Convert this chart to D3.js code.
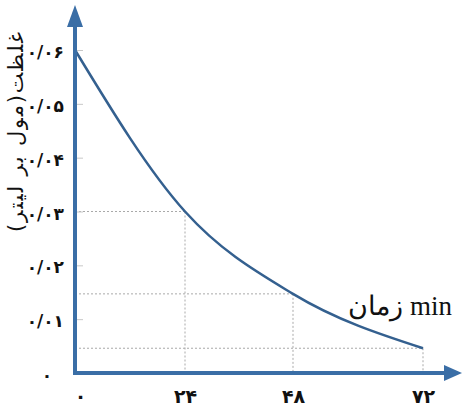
<!DOCTYPE html>
<html>
<head>
<meta charset="utf-8">
<script src="https://cdn.jsdelivr.net/npm/d3@7"></script>
<style>
  body { margin: 0; background: #fff; }
  svg { display: block; }
</style>
</head>
<body>
<script>
// data
const times = [0, 24, 48, 72];
const conc = [0.06, 0.03, 0.0147, 0.0046];
const yTicks = [0, 0.01, 0.02, 0.03, 0.04, 0.05, 0.06];
const xTicks = [0, 24, 48, 72];
const yTitle = 'غلظت(مول بر لیتر)';
const xTitle = 'زمان min';

const W = 463, H = 409;
const axisColor = '#3a6ea6';
const lineColor = '#34608f';

const fa = d => String(d).replace(/[0-9]/g, c => '۰۱۲۳۴۵۶۷۸۹'[+c]);
const yFmt = d => d === 0 ? '۰' : fa('0/0' + Math.round(d * 100));

const x = d3.scaleLinear().domain([0, 24, 48, 72]).range([75, 185, 293, 423]);
const y = d3.scaleLinear().domain([0, 0.06]).range([373, 50]);

const svg = d3.select('body').append('svg')
    .attr('width', W)
    .attr('height', H);

const pts = times.map((t, i) => ({t: t, c: conc[i]}));

// dotted guide lines
const guides = svg.append('g')
    .attr('stroke', '#a9a9a9')
    .attr('stroke-width', 1)
    .attr('stroke-dasharray', '2,2');
pts.slice(1).forEach(p => {
  guides.append('line')
      .attr('x1', x(0)).attr('x2', x(p.t))
      .attr('y1', y(p.c)).attr('y2', y(p.c));
  guides.append('line')
      .attr('x1', x(p.t)).attr('x2', x(p.t))
      .attr('y1', y(p.c)).attr('y2', y(0));
});

// y axis ticks + labels
const yAxis = d3.axisLeft(y)
    .tickValues(yTicks)
    .tickSizeInner(-8)
    .tickSizeOuter(0)
    .tickPadding(0)
    .tickFormat(yFmt);
const gy = svg.append('g').attr('transform', `translate(${x(0)},0)`).call(yAxis);
gy.select('.domain').remove();
gy.selectAll('.tick line').attr('stroke', '#c8c8c8').attr('x1', 2);
gy.selectAll('.tick text')
    .attr('x', -11)
    .attr('text-anchor', 'end')
    .attr('direction', 'ltr')
    .attr('dy', '0.45em')
    .attr('font-family', 'DejaVu Sans, sans-serif')
    .attr('font-size', 17)
    .attr('font-weight', 'bold')
    .attr('fill', '#111');
gy.selectAll('.tick').filter(d => d === 0).select('line').remove();
gy.selectAll('.tick').filter(d => d === 0).select('text')
    .attr('x', -28).attr('text-anchor', 'middle');

// x axis labels
const xAxis = d3.axisBottom(x)
    .tickValues(xTicks)
    .tickSize(0)
    .tickPadding(0)
    .tickFormat(fa);
const gx = svg.append('g').attr('transform', `translate(0,${y(0)})`).call(xAxis);
gx.select('.domain').remove();
gx.selectAll('.tick text')
    .attr('y', 23)
    .attr('dy', '0.35em')
    .attr('font-family', 'DejaVu Sans, sans-serif')
    .attr('font-size', 19)
    .attr('font-weight', 'bold')
    .attr('fill', '#111');
gx.selectAll('.tick').filter(d => d === 0).select('text').attr('x', 5);

// curve
const line = d3.line()
    .x(d => x(d.t))
    .y(d => y(d.c))
    .curve(d3.curveMonotoneX);
svg.append('path')
    .datum(pts)
    .attr('d', line)
    .attr('fill', 'none')
    .attr('stroke', lineColor)
    .attr('stroke-width', 2.5);

// axis lines with arrows
svg.append('line')
    .attr('x1', x(0)).attr('x2', x(0))
    .attr('y1', y(0) + 2).attr('y2', 22)
    .attr('stroke', axisColor).attr('stroke-width', 4);
svg.append('path')
    .attr('d', `M${x(0)},5 L${x(0) - 8},27 L${x(0) + 8},27 Z`)
    .attr('fill', axisColor);
svg.append('line')
    .attr('x1', x(0) - 2).attr('x2', 448)
    .attr('y1', y(0)).attr('y2', y(0))
    .attr('stroke', axisColor).attr('stroke-width', 4);
svg.append('path')
    .attr('d', `M462,${y(0)} L444,${y(0) - 8} L444,${y(0) + 8} Z`)
    .attr('fill', axisColor);

// titles
svg.append('text')
    .attr('transform', 'translate(16,132) rotate(-90)')
    .attr('text-anchor', 'middle')
    .attr('dy', '0.35em')
    .attr('font-family', 'DejaVu Sans, sans-serif')
    .attr('font-size', 21)
    .attr('textLength', 200)
    .attr('fill', '#111')
    .text(yTitle);

svg.append('text')
    .attr('x', 452).attr('y', 315)
    .attr('text-anchor', 'end')
    .attr('font-family', 'Liberation Serif, serif')
    .attr('font-size', 27)
    .attr('fill', '#111')
    .text(xTitle);
</script>
</body>
</html>
